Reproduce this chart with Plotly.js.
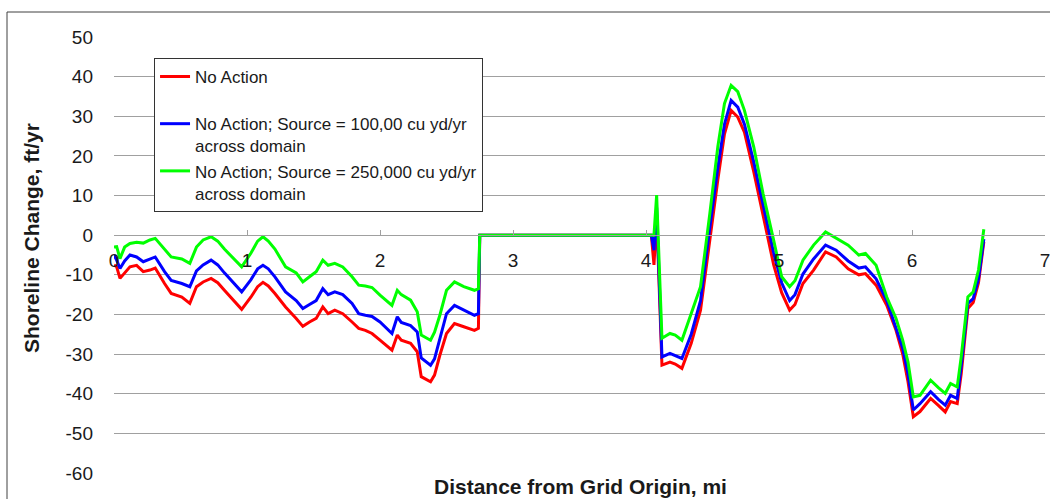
<!DOCTYPE html>
<html>
<head>
<meta charset="utf-8">
<script src="https://cdn.plot.ly/plotly-3.0.1.min.js"></script>
<style>html,body{margin:0;padding:0;background:#fff;}#chart{width:1050px;height:499px;}</style>
</head>
<body>
<div id="chart"></div>
<script>
// Distance from grid origin (mi)
const distance = [0, 0.02, 0.045, 0.08, 0.12, 0.17, 0.22, 0.27, 0.31, 0.38, 0.43, 0.51, 0.57, 0.62, 0.67, 0.73, 0.78, 0.83, 0.9, 0.96,
  1.03, 1.08, 1.12, 1.16, 1.21, 1.29, 1.37, 1.42, 1.47, 1.52, 1.57, 1.61, 1.66, 1.72, 1.79, 1.84, 1.89, 1.94, 2.0, 2.09,
  2.13, 2.16, 2.23, 2.28, 2.31, 2.38, 2.41, 2.45, 2.5, 2.56, 2.63, 2.71, 2.74, 2.75, 4.04, 4.06, 4.08, 4.12, 4.18, 4.22,
  4.27, 4.34, 4.41, 4.48, 4.54, 4.59, 4.64, 4.69, 4.74, 4.81, 4.88, 4.96, 5.02, 5.08, 5.12, 5.18, 5.26, 5.35, 5.43, 5.52,
  5.60, 5.65, 5.73, 5.81, 5.88, 5.93, 5.97, 6.01, 6.06, 6.14, 6.20, 6.25, 6.29, 6.34, 6.37, 6.42, 6.46, 6.50, 6.54];

// Shoreline change (ft/yr)
const noAction = [-7.5, -8, -10.9, -9.5, -8, -7.6, -9.2, -8.8, -8.3, -12.2, -14.7, -15.6, -17.2, -13, -11.8, -10.9, -12, -13.9, -16.4, -18.7,
  -15.6, -13, -11.9, -12.8, -14.7, -18.1, -21, -23, -21.9, -21, -18.1, -19.8, -18.9, -19.8, -21.9, -23.5, -24, -24.8, -26.5, -29,
  -25.2, -26.5, -27.3, -29.4, -35.7, -37, -35.3, -30.3, -24.8, -22.3, -23.1, -24, -23.5, 0, 0, -7.5, 5, -32.8, -32, -32.5,
  -33.6, -27.3, -18.9, -0.4, 14, 25.5, 31.5, 29.8, 26, 16, 5, -7.5, -14.5, -18.9, -17.5, -12.2, -8.8, -4.2, -5.5, -8.5,
  -10, -9.7, -12.6, -17.7, -24, -30, -37, -45.8, -44.5, -41.2, -43, -44.6, -42, -42.5, -35, -18.5, -17, -12, -1.7];

const source100k = [-5, -6.3, -8.4, -6.5, -5, -5.5, -6.7, -6, -5.5, -9.2, -11.4, -12.2, -13, -9, -7.5, -6.3, -7.5, -9.5, -12, -14.3,
  -11.2, -8.5, -7.6, -8.5, -10.5, -14.3, -16.5, -18.5, -17.5, -16.5, -13.5, -15, -14.3, -15, -17.2, -19.8, -20.2, -20.5, -21.9, -24.8,
  -20.6, -22, -22.8, -24.4, -31, -32.8, -31.2, -25.8, -19.8, -17.7, -18.8, -20.2, -19.8, 0, 0, -3.8, 7, -30.7, -29.8, -30.3,
  -31.1, -25, -16.5, 2, 17, 28, 34, 32.3, 28, 18.5, 7.5, -4.5, -12, -16.5, -15, -9.8, -6, -2.5, -3.8, -6.5,
  -8.3, -8, -11, -16.5, -23.5, -28.5, -35, -44.1, -42.5, -39.5, -41.5, -42.9, -40.4, -41.2, -33, -17.2, -16, -11, -1];

const source250k = [-3, -2.9, -5.9, -3, -2.1, -1.8, -2, -1.2, -0.8, -3.5, -5.5, -6, -7.1, -3, -1.2, -0.4, -1.5, -3.5, -6, -8,
  -4.5, -1.5, -0.4, -1.5, -3.5, -8, -9.5, -11.8, -10.5, -9.2, -6.3, -7.6, -7.1, -8, -10.5, -12.6, -12.8, -13.2, -15.1, -17.7,
  -13.9, -15, -16.4, -19.3, -25.2, -26.5, -24.5, -20.2, -13.9, -11.8, -13, -13.9, -13.5, 0, 0, 0, 10.1, -26, -24.8, -25.2,
  -26.5, -19.8, -13, 5.5, 22.3, 33.2, 37.8, 36.2, 31.5, 22.3, 10.5, -1.3, -10.5, -13, -11.5, -6.3, -2.5, 0.8, -0.8, -2.5,
  -5, -4.6, -7.6, -15.6, -21, -26.5, -32, -40.8, -40.4, -36.6, -38.5, -39.9, -37.4, -38.3, -30.7, -15.6, -14.3, -8.8, 1.5];

const seriesNames = [
  'No Action<br> ',
  'No Action; Source = 100,00 cu yd/yr<br>across domain',
  'No Action; Source = 250,000 cu yd/yr<br>across domain'
];
const seriesColors = ['#ff0000', '#0000ff', '#00ff00'];
const xTicks = [0, 1, 2, 3, 4, 5, 6, 7];
const yTicks = [-60, -50, -40, -30, -20, -10, 0, 10, 20, 30, 40, 50];

const allY = [noAction, source100k, source250k];
const traces = allY.map((ys, i) => ({
  type: 'scatter', mode: 'lines', x: distance, y: ys, name: seriesNames[i],
  line: {color: seriesColors[i], width: 3}
}));

const FONT = 'Liberation Sans, Arial, sans-serif';
const layout = {
  width: 1050, height: 499,
  margin: {l: 114, r: 5, t: 37, b: 26},
  paper_bgcolor: '#fff', plot_bgcolor: '#fff',
  font: {family: FONT, color: '#1a1a1a'},
  showlegend: true,
  legend: {
    x: 0.043, y: 0.952, xanchor: 'left', yanchor: 'top',
    bgcolor: '#fff', bordercolor: '#333', borderwidth: 1,
    font: {family: FONT, size: 17, color: '#1a1a1a'},
    valign: 'top', tracegroupgap: 0
  },
  xaxis: {
    range: [0, 7], tickvals: xTicks, ticktext: xTicks.map(String),
    anchor: 'free', position: 60 / 110,
    showgrid: false, zeroline: false, showline: true, linecolor: '#a0a0a0', linewidth: 1,
    ticks: 'inside', ticklen: 5, tickcolor: '#a0a0a0',
    ticklabelstandoff: 8, ticklabeloverflow: 'allow',
    tickfont: {family: FONT, size: 19, color: '#1a1a1a'}
  },
  yaxis: {
    range: [-60, 50], tickvals: yTicks, ticktext: yTicks.map(String),
    showgrid: true, gridcolor: '#a0a0a0', gridwidth: 1, zeroline: false, showline: false,
    ticks: '', ticklabelstandoff: 20,
    tickfont: {family: FONT, size: 19, color: '#1a1a1a'}
  },
  annotations: [
    {text: '<b>Shoreline Change, ft/yr</b>', xref: 'paper', yref: 'paper',
     x: (32 - 114) / 931, y: (473 - 238) / 436, textangle: -90, showarrow: false,
     xanchor: 'center', yanchor: 'middle', font: {family: FONT, size: 21, color: '#1a1a1a'}},
    {text: '<b>Distance from Grid Origin, mi</b>', xref: 'paper', yref: 'paper',
     x: (580 - 114) / 931, y: (473 - 487) / 436, showarrow: false,
     xanchor: 'center', yanchor: 'middle',
     font: {family: FONT, size: 21, color: '#1a1a1a'}}
  ],
  shapes: [
    {type: 'rect', xref: 'paper', yref: 'paper', x0: (7 - 114) / 931, x1: 1.2, y0: -0.3, y1: (473 - 12) / 436,
     line: {color: '#404040', width: 1}, fillcolor: 'rgba(0,0,0,0)', layer: 'below'}
  ]
};

Plotly.newPlot('chart', traces, layout, {displayModeBar: false, staticPlot: true});
</script>
</body>
</html>
